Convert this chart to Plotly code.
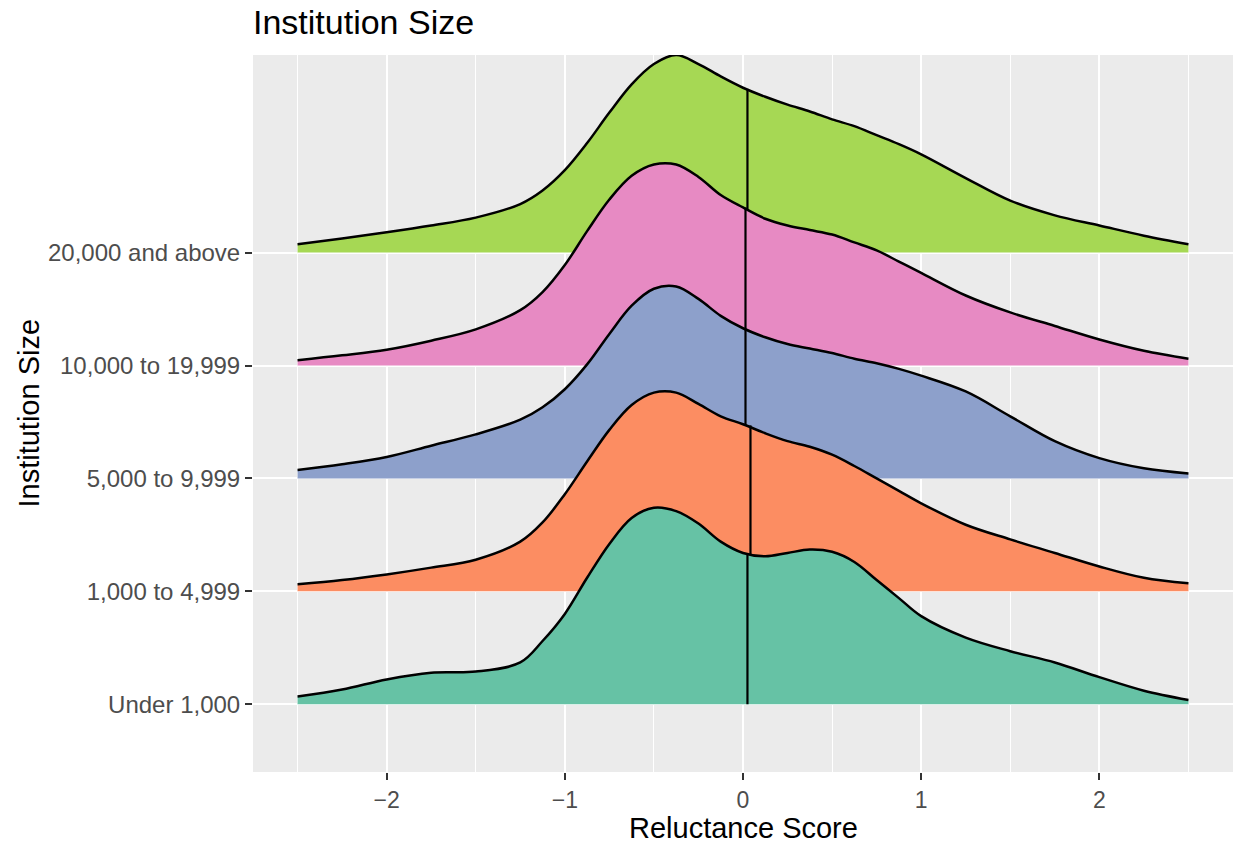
import plotly.graph_objects as go

categories = ["Under 1,000", "1,000 to 4,999", "5,000 to 9,999", "10,000 to 19,999", "20,000 and above"]
colors = ["#66C2A5", "#FC8D62", "#8DA0CB", "#E78AC3", "#A6D854"]

# Reluctance score positions at which ridge heights were read
score = [-2.5, -2.25, -2.0, -1.75, -1.5, -1.25, -1.125, -1.0, -0.875, -0.75, -0.625, -0.5, -0.375,
         -0.25, -0.125, 0.0, 0.125, 0.25, 0.375, 0.5, 0.625, 0.75, 0.875, 1.0, 1.25, 1.5, 1.75,
         2.0, 2.25, 2.5]

under_1k = [0.068, 0.13, 0.22, 0.28, 0.29, 0.37, 0.56, 0.80, 1.12, 1.42, 1.65, 1.74, 1.71,
            1.60, 1.44, 1.34, 1.31, 1.34, 1.37, 1.35, 1.26, 1.10, 0.94, 0.78, 0.59, 0.47, 0.37,
            0.24, 0.12, 0.038]
size_1k_5k = [0.062, 0.10, 0.15, 0.21, 0.28, 0.44, 0.61, 0.86, 1.15, 1.43, 1.65, 1.76, 1.76,
              1.66, 1.55, 1.48, 1.40, 1.33, 1.28, 1.21, 1.11, 1.00, 0.89, 0.78, 0.59, 0.46, 0.34,
              0.22, 0.12, 0.071]
size_5k_10k = [0.074, 0.125, 0.19, 0.29, 0.39, 0.52, 0.63, 0.79, 1.01, 1.28, 1.53, 1.68, 1.70,
               1.59, 1.44, 1.33, 1.25, 1.19, 1.15, 1.11, 1.06, 1.02, 0.97, 0.91, 0.77, 0.55, 0.33,
               0.18, 0.09, 0.044]
size_10k_20k = [0.047, 0.09, 0.14, 0.22, 0.32, 0.49, 0.65, 0.89, 1.19, 1.47, 1.68, 1.78, 1.78,
                1.67, 1.51, 1.40, 1.30, 1.24, 1.20, 1.16, 1.09, 1.02, 0.92, 0.82, 0.62, 0.47, 0.35,
                0.23, 0.13, 0.06]
size_20k_up = [0.074, 0.125, 0.18, 0.24, 0.31, 0.43, 0.55, 0.73, 0.97, 1.24, 1.49, 1.67, 1.75,
               1.67, 1.56, 1.46, 1.38, 1.31, 1.25, 1.18, 1.12, 1.04, 0.96, 0.87, 0.66, 0.46, 0.33,
               0.24, 0.15, 0.074]

median_x = [0.025, 0.042, 0.014, 0.014, 0.025]
median_h = [1.33, 1.47, 1.32, 1.40, 1.45]

heights = [under_1k, size_1k_5k, size_5k_10k, size_10k_20k, size_20k_up]

x_ticks = [-2, -1, 0, 1, 2]
x_ticktext = ["\u22122", "\u22121", "0", "1", "2"]

FONT = "Liberation Sans, Arial, Helvetica, sans-serif"

fig = go.Figure()
for i in reversed(range(len(categories))):
    base = i + 1
    hs = heights[i]
    fig.add_trace(go.Scatter(x=[score[0], score[-1]], y=[base, base], mode="lines",
                             line=dict(width=0, color=colors[i]), showlegend=False, hoverinfo="skip"))
    fig.add_trace(go.Scatter(x=score, y=[base + h for h in hs], mode="lines", fill="tonexty",
                             fillcolor=colors[i],
                             line=dict(color="black", width=2.5, shape="spline", smoothing=1.0),
                             name=categories[i], showlegend=False))
    fig.add_trace(go.Scatter(x=[median_x[i], median_x[i]], y=[base, base + median_h[i]], mode="lines",
                             line=dict(color="black", width=2.2), showlegend=False, hoverinfo="skip"))

fig.update_layout(
    width=1236, height=843,
    margin=dict(l=253, r=3, t=55, b=71, autoexpand=False),
    paper_bgcolor="white", plot_bgcolor="#EBEBEB",
    font=dict(family=FONT, color="#4D4D4D", size=24),
    title=dict(text="Institution Size", x=0, xref="paper", xanchor="left",
               y=1 - 22 / 843, yref="container", yanchor="middle",
               font=dict(family=FONT, size=34, color="black")),
    xaxis=dict(range=[-2.75, 2.75], tickvals=x_ticks, ticktext=x_ticktext,
               showgrid=True, gridcolor="white", gridwidth=2, zeroline=False,
               ticks="outside", ticklen=7, tickwidth=1.5, tickcolor="#333333",
               tickfont=dict(size=23, color="#4D4D4D"), showline=False, automargin=False,
               minor=dict(tick0=0.5, dtick=1, showgrid=True, gridcolor="white", gridwidth=1, ticks="")),
    yaxis=dict(range=[0.4, 6.75], tickvals=[1, 2, 3, 4, 5], ticktext=categories,
               showgrid=True, gridcolor="white", gridwidth=2, zeroline=False,
               ticks="outside", ticklen=7, tickwidth=1.5, tickcolor="#333333",
               tickfont=dict(size=24, color="#4D4D4D"), showline=False, automargin=False),
    annotations=[
        dict(text="Reluctance Score", xref="paper", yref="paper", x=0.5, y=0, yshift=-56,
             xanchor="center", yanchor="middle", showarrow=False,
             font=dict(family=FONT, size=29, color="black")),
        dict(text="Institution Size", xref="paper", yref="paper", x=0, y=0.5, xshift=-225,
             xanchor="center", yanchor="middle", textangle=-90, showarrow=False,
             font=dict(family=FONT, size=29, color="black")),
    ],
)

fig.write_html("out.html", config={"displayModeBar": False},
               post_script="document.body.style.margin='0';document.body.style.overflow='hidden';")
